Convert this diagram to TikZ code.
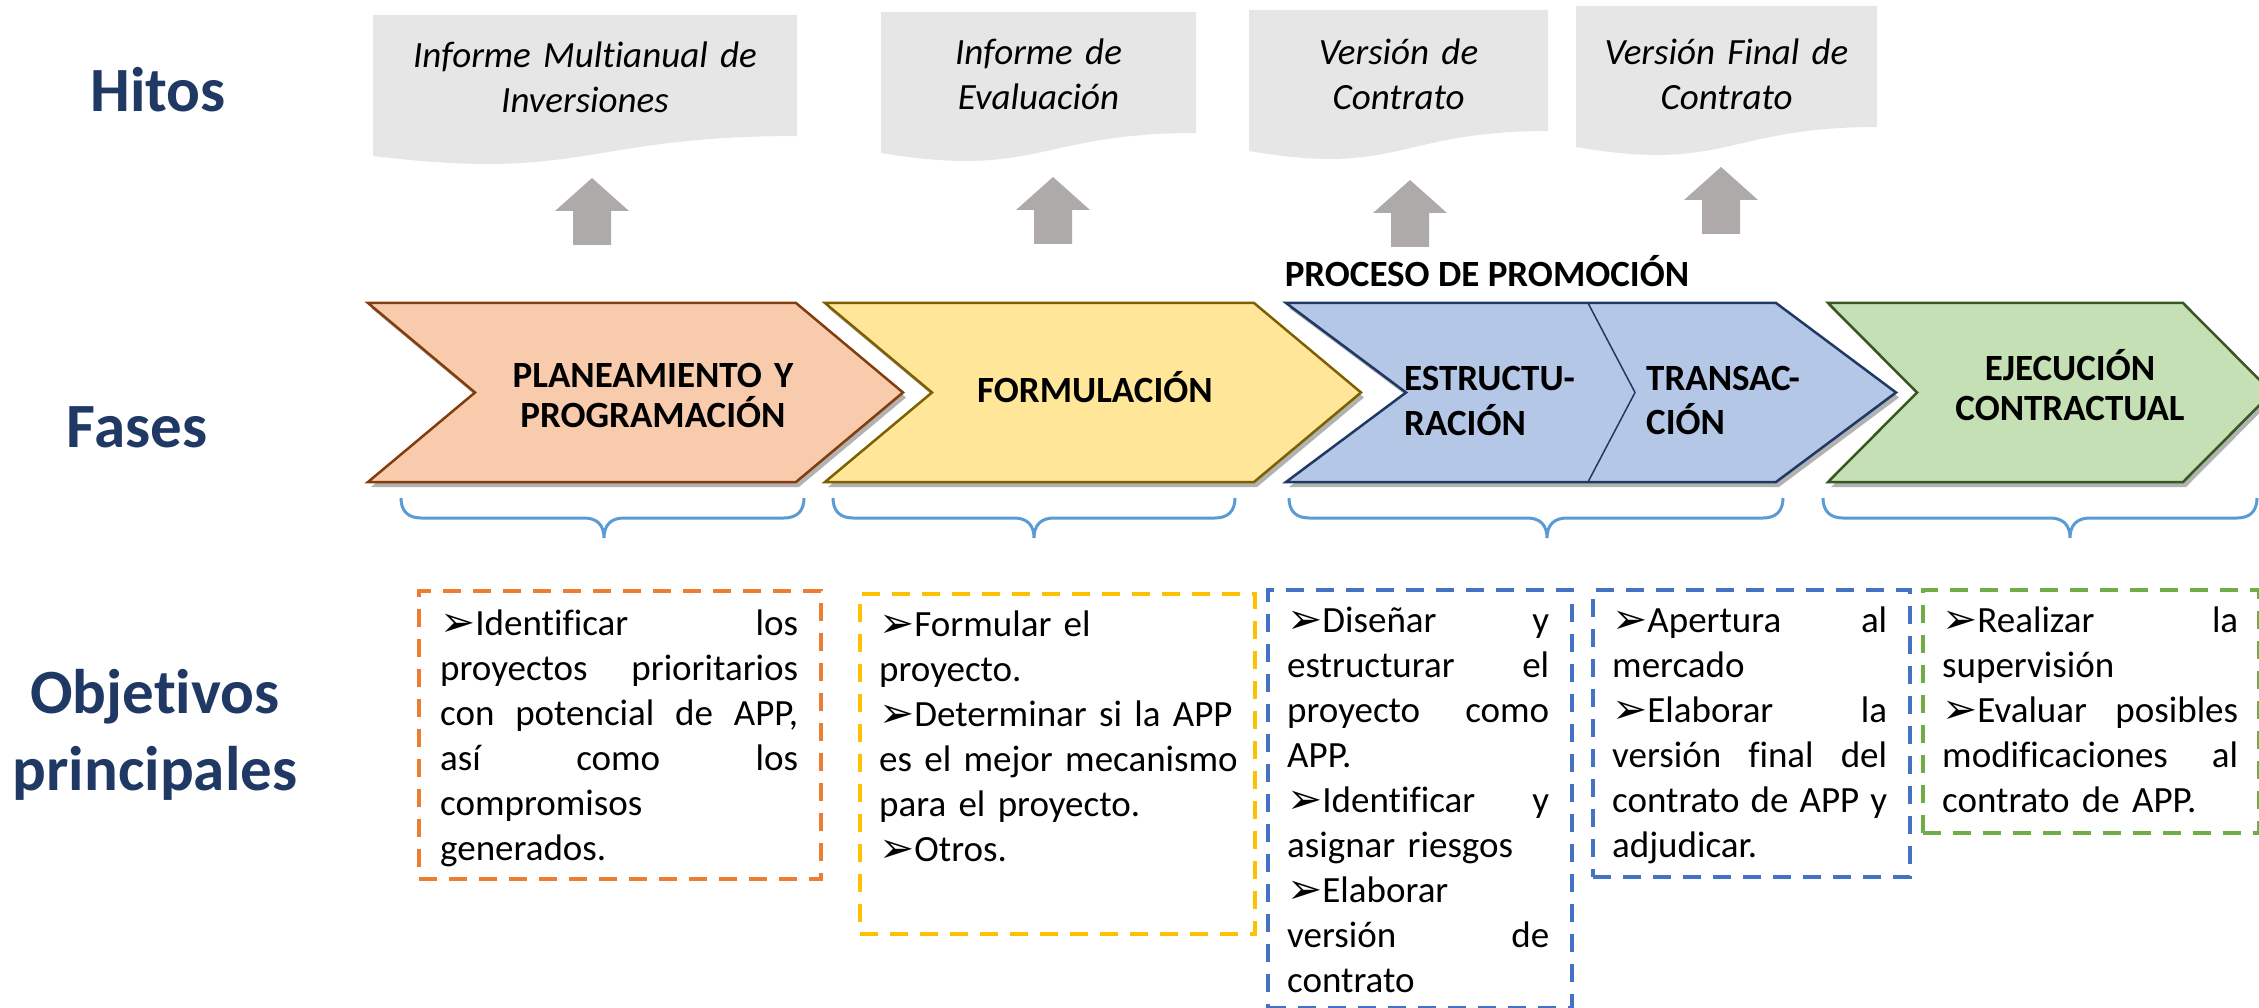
\documentclass[tikz,border=0pt]{standalone}
\usepackage{fontspec}
\setmainfont{Carlito}[Ligatures=NoCommon]
\newfontfamily\symfont{DejaVu Sans}
\usetikzlibrary{shadows}

\definecolor{navy}{HTML}{1F3864}
\definecolor{docgray}{HTML}{E7E6E6}
\definecolor{arrowgray}{HTML}{AEAAAA}
\definecolor{orfill}{HTML}{F8CBAD}
\definecolor{ordraw}{HTML}{843C0C}
\definecolor{yefill}{HTML}{FFE699}
\definecolor{yedraw}{HTML}{7F6000}
\definecolor{blfill}{HTML}{B4C7E7}
\definecolor{bldraw}{HTML}{203864}
\definecolor{grfill}{HTML}{C5E0B4}
\definecolor{grdraw}{HTML}{385723}
\definecolor{bracecol}{HTML}{5B9BD5}
\definecolor{orline}{HTML}{ED7D31}
\definecolor{yeline}{HTML}{FFC000}
\definecolor{blline}{HTML}{4472C4}
\definecolor{grline}{HTML}{70AD47}

\newcommand{\bul}{\raisebox{-1pt}{\symfont\fontsize{42}{42}\selectfont ➢}}

\tikzset{
	rowname/.style={font=\fontsize{63}{77}\selectfont\bfseries, text=navy, inner sep=0pt, anchor=base, align=center},
	doctext/.style={font=\fontsize{37}{45}\selectfont\itshape, inner sep=0pt, anchor=base, align=center},
	phase/.style={font=\fontsize{37}{40}\selectfont\bfseries, inner sep=0pt, anchor=base},
	chev/.style={line width=2.5pt, drop shadow={shadow xshift=3pt, shadow yshift=-5pt, opacity=0.3, fill=black}},
	objbox/.style={draw=#1, line width=3.5pt, dash pattern=on 18pt off 12pt, inner sep=0pt, anchor=north west},
	objtext/.style={font=\fontsize{37}{45}\selectfont, inner sep=0pt, anchor=base west, align=left},
	brace/.style={draw=bracecol, line width=3pt}
}

\begin{document}
\begin{tikzpicture}[x=1pt, y=-1pt]
	\useasboundingbox (0,0) rectangle (2259,1008);

	% row names
	\node[rowname] (hitos) at (158,112) {Hitos};
	\node[rowname] (fases) at (137,447) {Fases};
	\node[rowname, text width=300] (objetivos) at (155,713) {Objetivos\\principales};

	% draw milestones
	\foreach \l/\r/\t/\bl/\txt [count=\i] in {373/797/15/68/{Informe Multianual de\\Inversiones}, 881/1196/12/65/{Informe de\\Evaluación}, 1249/1548/10/65/{Versión de\\Contrato}, 1576/1877/6/65/{Versión Final de\\Contrato}}
	{
		\fill[docgray] (\l,\t) -- (\r,\t) -- (\r,\t+121) .. controls ({(\l+\r)/2},\t+121) and ({(\l+\r)/2},\t+167) .. (\l,\t+141) -- cycle;
		\node[doctext, text width=\r-\l-20] (hito\i) at ({(\l+\r)/2},\bl) {\txt};
	}

	% draw arrows to milestones
	\foreach \x/\t in {592/178, 1053/177, 1410/180, 1721/167}
	{
		\fill[arrowgray] (\x-19,\t+67) -- (\x-19,\t+33) -- (\x-37,\t+33) -- (\x,\t) -- (\x+37,\t+33) -- (\x+19,\t+33) -- (\x+19,\t+67) -- cycle;
	}

	% draw phases
	\foreach \l/\r/\d/\f/\c in {368/796/107/orfill/ordraw, 825/1254/107/yefill/yedraw, 1286/1776/120/blfill/bldraw, 1828/2183/89/grfill/grdraw}
	{
		\draw[chev, fill=\f, draw=\c] (\l,303) -- (\r,303) -- (\r+\d,392.5) -- (\r,482) -- (\l,482) -- (\l+\d,392.5) -- cycle;
	}
	\draw[bldraw, line width=1.5pt] (1588,303) -- (1635,392.5) -- (1588,482);

	\node[phase] (proceso) at (1487,287) {PROCESO DE PROMOCIÓN};
	\node[phase, text width=320, align=center] (plan) at (653,387) {PLANEAMIENTO Y\\PROGRAMACIÓN};
	\node[phase, text width=300, align=center] (form) at (1095,402) {FORMULACIÓN};
	\node[phase, font=\fontsize{37}{45}\selectfont\bfseries, text width=220, align=left, anchor=base west] (estr) at (1404,390) {ESTRUCTU-\\RACIÓN};
	\node[phase, font=\fontsize{37}{44}\selectfont\bfseries, text width=200, align=left, anchor=base west] (trans) at (1646,390) {TRANSAC-\\CIÓN};
	\node[phase, text width=300, align=center] (ejec) at (2070,380) {EJECUCIÓN\\CONTRACTUAL};

	% draw braces
	\foreach \l/\m/\r in {401/604/804, 833/1034/1235, 1289/1547/1783, 1823/2070/2257}
	{
		\draw[brace] (\l,498) .. controls (\l,511) and (\l+7,518) .. (\l+20,518) -- (\m-20,518) .. controls (\m-7,518) and (\m,525) .. (\m,538) .. controls (\m,525) and (\m+7,518) .. (\m+20,518) -- (\r-20,518) .. controls (\r-7,518) and (\r,511) .. (\r,498);
	}

	% draw objectives
	\node[objbox=orline, minimum width=402, minimum height=288] (planobj) at (417,589) {};
	\node[objbox=yeline, minimum width=395, minimum height=340] (formobj) at (858,592) {};
	\node[objbox=blline, minimum width=304, minimum height=418] (estrobj) at (1266,588) {};
	\node[objbox=blline, minimum width=317, minimum height=287] (transobj) at (1591,588) {};
	\node[objbox=grline, minimum width=336, minimum height=243] (ejecobj) at (1921,588) {};

	\node[objtext, text width=358] (plantext) at (440,635) {\bul Identificar\hfill los\\proyectos\hfill prioritarios\\con\hfill potencial\hfill de\hfill APP,\\así\hfill como\hfill los\\compromisos\\generados.};
	\node[objtext, text width=372] (formtext) at (879,636) {\bul Formular el\\proyecto.\\\bul Determinar si la APP\\es el mejor mecanismo\\para el proyecto.\\\bul Otros.};
	\node[objtext, text width=262] (estrtext) at (1287,632) {\bul Diseñar\hfill y\\estructurar\hfill el\\proyecto\hfill como\\APP.\\\bul Identificar\hfill y\\asignar riesgos\\\bul Elaborar\\versión\hfill de\\contrato};
	\node[objtext, text width=275] (transtext) at (1612,632) {\bul Apertura\hfill al\\mercado\\\bul Elaborar\hfill la\\versión\hfill final\hfill del\\contrato\hfill de\hfill APP\hfill y\\adjudicar.};
	\node[objtext, text width=296] (ejectext) at (1942,632) {\bul Realizar\hfill la\\supervisión\\\bul Evaluar\hfill posibles\\modificaciones\hfill al\\contrato de APP.};

\end{tikzpicture}
\end{document}
